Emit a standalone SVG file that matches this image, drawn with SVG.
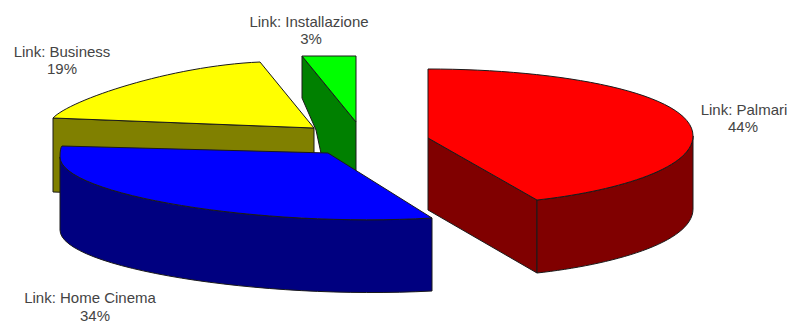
<svg xmlns="http://www.w3.org/2000/svg" width="787" height="324" viewBox="0 0 787 324">
<style>
.e{stroke:#1a1a1a;stroke-width:1;stroke-linejoin:round}
.lbl{font-family:"Liberation Sans",Arial,sans-serif;font-size:15px;fill:#444;text-anchor:middle}
</style>
<rect width="787" height="324" fill="#fff"/>
<g id="slice-installazione">
<path class="e" fill="#008000" d="M302,56 L356,122 L356,190 L322,158 L316,130 L302,98 Z"/>
<path class="e" fill="#00ff00" d="M302,56 L356,56 L356,122 Z"/>
</g>
<g id="slice-business">
<path class="e" fill="#808000" d="M53,118 L314,128 L314,200 L53,192 Z"/>
<path class="e" fill="#ffff00" d="M53,118 C70,100 170,66 260,62 L314,128 Z"/>
</g>
<g id="slice-palmari">
<path class="e" fill="#800000" d="M428,138 L537,200 L537,273 L428,210 Z"/>
<path class="e" fill="#800000" d="M693,136 C693,170 610,192 537,200 L537,273 C610,265 693,243 693,209 Z"/>
<path class="e" fill="#ff0000" d="M428,69 C560,69 693,93 693,136 C693,170 610,192 537,200 L428,138 Z"/>
</g>
<g id="slice-home-cinema">
<path class="e" fill="#000080" d="M60,157 C60,195 260,228 432,218 L432,291 C260,300 60,268 60,230 Z"/>
<path class="e" fill="#0000ff" d="M62,146 L328,153 L432,218 C260,228 60,195 60,157 Q60,148 62,146 Z"/>
</g>
<g id="labels">
<text class="lbl" x="309" y="27">Link: Installazione</text>
<text class="lbl" x="311" y="44">3%</text>
<text class="lbl" x="62" y="57">Link: Business</text>
<text class="lbl" x="62" y="74">19%</text>
<text class="lbl" x="744" y="115">Link: Palmari</text>
<text class="lbl" x="743" y="132">44%</text>
<text class="lbl" x="90" y="303">Link: Home Cinema</text>
<text class="lbl" x="95" y="321">34%</text>
</g>
</svg>
